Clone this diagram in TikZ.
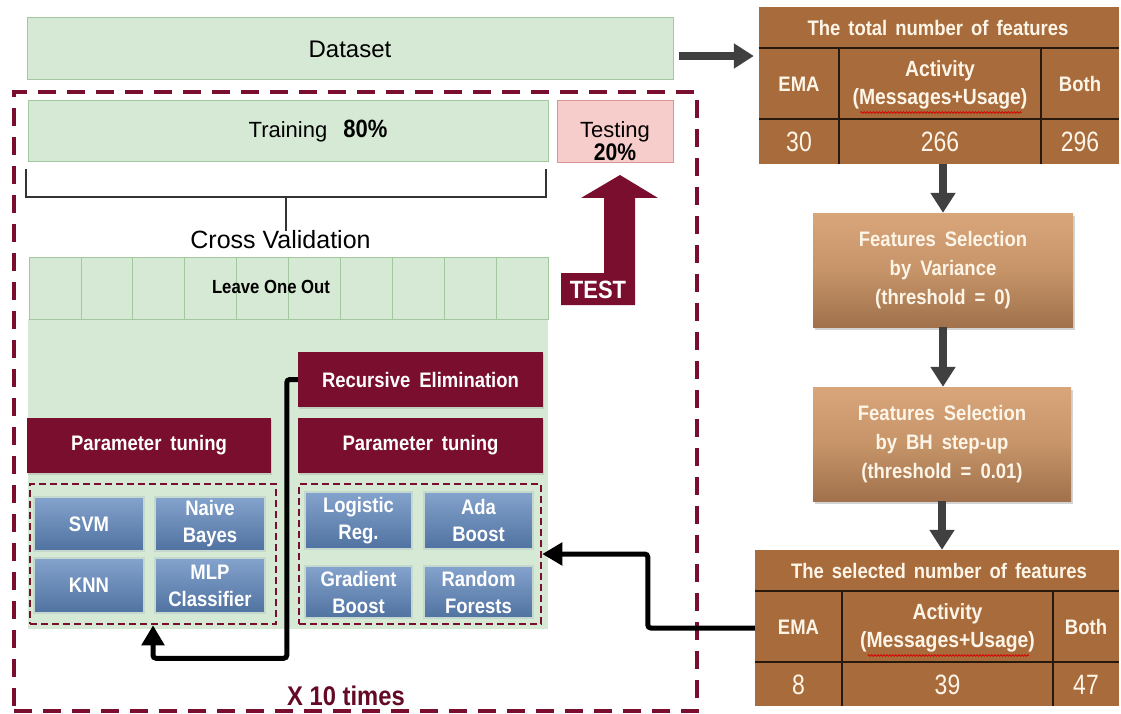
\documentclass[tikz,border=0pt]{standalone}
\usepackage{fontspec}
\setmainfont{Liberation Sans}
\newfontfamily\nb{Liberation Sans}[FakeStretch=0.88]
\newfontfamily\nr{Liberation Sans}[FakeStretch=0.82]
\usetikzlibrary{arrows.meta,shadows,calc,decorations.pathmorphing}
\newcommand\setfs[2]{\fontsize{#1}{#2}\selectfont}
\newcommand\widesp[1]{\spaceskip=#1\relax}

\definecolor{mar}{RGB}{122,14,46}
\definecolor{mardark}{RGB}{100,10,38}
\definecolor{grn}{RGB}{214,233,212}
\definecolor{grnline}{RGB}{163,199,158}
\definecolor{pnk}{RGB}{246,205,203}
\definecolor{pnkline}{RGB}{214,150,148}
\definecolor{brn}{RGB}{168,107,60}
\definecolor{tlinec}{RGB}{40,25,15}
\definecolor{ftop}{RGB}{216,166,122}
\definecolor{fmid}{RGB}{198,148,104}
\definecolor{fbot}{RGB}{160,113,76}
\definecolor{btop}{RGB}{132,163,205}
\definecolor{bbot}{RGB}{80,114,160}
\definecolor{bglow}{RGB}{196,216,206}
\definecolor{dgray}{RGB}{64,64,64}
\definecolor{cream}{RGB}{253,245,232}

\begin{document}
\begin{tikzpicture}[x=1pt,y=-1pt,
  greenbox/.style={draw=grnline, fill=grn, line width=1pt, inner sep=0pt},
  cell/.style={draw=grnline, fill=grn, line width=0.8pt, minimum width=51.9pt, minimum height=62pt, inner sep=0pt},
  maroonbox/.style={fill=mar, text=white, font={\nb\bfseries\setfs{21}{24}\widesp{9pt}}, inner sep=0pt,
    drop shadow={opacity=0.25, shadow xshift=1pt, shadow yshift=-2pt}},
  bluebox/.style={top color=btop, bottom color=bbot, draw=bglow, line width=1.5pt, text=white,
    font={\nb\bfseries\setfs{21}{27}}, align=center, inner sep=0pt},
  featbox/.style={top color=ftop, bottom color=fbot, middle color=fmid, text=cream,
    font={\nb\bfseries\setfs{21}{29}\widesp{9pt}}, align=center, inner sep=0pt,
    drop shadow={opacity=0.35, shadow xshift=2pt, shadow yshift=-3pt}},
  innerdash/.style={draw=mar, line width=2.5pt, dash pattern=on 7pt off 4pt},
  outerdash/.style={draw=mar, line width=4pt, dash pattern=on 18pt off 11pt},
  tabletext/.style={text=cream, font={\nb\bfseries\setfs{21}{28}\widesp{8pt}}, align=center, inner sep=0pt},
  tablenum/.style={text=cream, font={\nr\setfs{28}{30}}, inner sep=0pt},
  tablebg/.style={fill=brn, inner sep=0pt},
  tline/.style={draw=tlinec, line width=2.5pt},
  darrow/.style={draw=dgray, line width=8pt, -{Triangle[width=24pt,length=20pt]}},
  barrow/.style={draw=black, line width=5pt, rounded corners=3pt, -{Triangle[width=22pt,length=20pt]}},
  wavy/.style={draw=red!85!black, line width=0.8pt, decorate, decoration={snake, amplitude=0.8pt, segment length=3pt}},
  plain/.style={inner sep=0pt},
]
\useasboundingbox (0,0) rectangle (1121,714);

% ---------- data split ----------
\node[greenbox, minimum width=646pt, minimum height=62pt, font={\setfs{24}{28}}] (dataset) at (350,49) {Dataset};

\node[outerdash, minimum width=683pt, minimum height=619pt, inner sep=0pt] (loop) at (355.5,401.5) {};
\node[plain, text=mardark, font={\nb\bfseries\setfs{27}{30}}] (times) at (346,696) {X 10 times};

\node[greenbox, minimum width=520pt, minimum height=61pt] (training) at (288,131.5) {};
\node[plain, font={\setfs{22}{26}}] (traintxt) at (318,131) {Training\hspace{16pt}{\nb\bfseries\setfs{25}{26}80\%}};

\node[draw=pnkline, fill=pnk, line width=1pt, minimum width=116pt, minimum height=62pt, inner sep=0pt] (testing) at (615,132) {};
\node[plain, align=center, font={\setfs{22}{19}}] (testtxt) at ([yshift=-9pt]testing.center) {Testing\\{\nb\bfseries\setfs{24}{19}20\%}};

% bracket under the training set
\coordinate (brl) at (26,169);
\coordinate (brr) at (546,169);
\coordinate (brm) at (286,197);
\node[plain, font={\setfs{25}{28}}] (cv) at (280.5,240) {Cross Validation};
\draw[draw=black!80, line width=2pt] (brl) |- (brr |- brm) -- (brr);
\draw[draw=black!80, line width=2pt] (brm) -- (brm |- cv.north);

% ---------- cross validation area ----------
\fill[grn] (28,319) rectangle (548,629);
\foreach \i in {0,...,9}
  \node[cell] (c\i) at ({54.95+51.9*\i},288) {};
\node[plain, font={\nb\bfseries\setfs{19}{22}}] (loo) at (271,287) {Leave One Out};

% test arrow
\fill[mar] (561,305) -- (561,273) -- (604,273) -- (604,198) -- (581,198) -- (620,175)
  -- (658,198) -- (635,198) -- (635,305) -- cycle;
\node[plain, text=white, font={\nb\bfseries\setfs{25}{28}}] (testlbl) at (598,290) {TEST};

% ---------- model groups ----------
\node[maroonbox, minimum width=244pt, minimum height=55pt] (ptl) at (149,445.5) {Parameter tuning};
\node[maroonbox, minimum width=245pt, minimum height=55pt] (re) at (420.5,379.5) {Recursive Elimination};
\node[maroonbox, minimum width=245pt, minimum height=55pt] (ptr) at (420.5,445.5) {Parameter tuning};

\node[innerdash, minimum width=246pt, minimum height=140pt, inner sep=0pt] (ldash) at (153,554) {};
\node[innerdash, minimum width=242pt, minimum height=140pt, inner sep=0pt] (rdash) at (420,554) {};

\node[bluebox, minimum width=110pt, minimum height=54pt] (svm) at (89,524) {SVM};
\node[bluebox, minimum width=110pt, minimum height=54pt] (nb) at (210,524) {Naive\\Bayes};
\node[bluebox, minimum width=110pt, minimum height=55pt] (knn) at (89,585.5) {KNN};
\node[bluebox, minimum width=110pt, minimum height=55pt] (mlp) at (210,585.5) {MLP\\Classifier};

\node[bluebox, minimum width=107pt, minimum height=57pt] (lr) at (358.5,520.5) {Logistic\\Reg.};
\node[bluebox, minimum width=109pt, minimum height=57pt] (ada) at (478.5,520.5) {Ada\\Boost};
\node[bluebox, minimum width=107pt, minimum height=52pt] (gb) at (358.5,592) {Gradient\\Boost};
\node[bluebox, minimum width=109pt, minimum height=52pt] (rf) at (478.5,592) {Random\\Forests};

\draw[barrow] (re.west) -- ++(-11,0) |- ([yshift=-33pt]ldash.south) -- (ldash.south);

% ---------- feature tables ----------
\node[tablebg, minimum width=360pt, minimum height=157pt] (t1) at (939,85.5) {};
\draw[tline] ($(t1.north west)+(0,41)$) -- ($(t1.north east)+(0,41)$);
\draw[tline] ($(t1.north west)+(0,112)$) -- ($(t1.north east)+(0,112)$);
\draw[tline] ($(t1.north west)+(80,41)$) -- ($(t1.south west)+(80,0)$);
\draw[tline] ($(t1.north west)+(282,41)$) -- ($(t1.south west)+(282,0)$);
\node[tabletext] (t1title) at (938,28) {The total number of features};
\node[tabletext] (t1ema) at (799,84) {EMA};
\node[tabletext, font={\nb\bfseries\setfs{22}{28}}] (t1act) at (940,85) {Activity\\(Messages+Usage)};
\node[tabletext] (t1both) at (1080,84) {Both};
\node[tablenum] (t1n1) at (799,142) {30};
\node[tablenum] (t1n2) at (940,142) {266};
\node[tablenum] (t1n3) at (1080,142) {296};
\draw[wavy] ($(t1act.south west)+(8,3)$) -- ($(t1act.south east)+(-6,3)$);

\node[featbox, minimum width=260pt, minimum height=114pt] (f1) at (943,270) {Features Selection\\by Variance\\(threshold = 0)};
\node[featbox, minimum width=258pt, minimum height=114pt] (f2) at (942,444) {Features Selection\\by BH step-up\\(threshold = 0.01)};

\node[tablebg, minimum width=364pt, minimum height=156pt] (t2) at (937,628) {};
\draw[tline] ($(t2.north west)+(0,41)$) -- ($(t2.north east)+(0,41)$);
\draw[tline] ($(t2.north west)+(0,112)$) -- ($(t2.north east)+(0,112)$);
\draw[tline] ($(t2.north west)+(87,41)$) -- ($(t2.south west)+(87,0)$);
\draw[tline] ($(t2.north west)+(298,41)$) -- ($(t2.south west)+(298,0)$);
\node[tabletext] (t2title) at (939,571) {The selected number of features};
\node[tabletext] (t2ema) at (798.5,627) {EMA};
\node[tabletext, font={\nb\bfseries\setfs{22}{28}}] (t2act) at (947.5,628) {Activity\\(Messages+Usage)};
\node[tabletext] (t2both) at (1086,627) {Both};
\node[tablenum] (t2n1) at (798.5,685) {8};
\node[tablenum] (t2n2) at (947.5,685) {39};
\node[tablenum] (t2n3) at (1086,685) {47};
\draw[wavy] ($(t2act.south west)+(8,3)$) -- ($(t2act.south east)+(-6,3)$);

% ---------- connectors ----------
\draw[darrow, shorten >=10pt] ([xshift=5pt,yshift=-7pt]dataset.east) -- ([xshift=5pt,yshift=-7pt]dataset.east -| t1.west);
\draw[darrow] (f1.north |- t1.south) -- (f1.north);
\draw[darrow] (f1.south) -- (f1.south |- f2.north);
\draw[darrow] (f2.south) -- (f2.south |- t2.north);
\draw[barrow] (t2.west) -- ++(-107,0) |- (rdash.east);
\end{tikzpicture}
\end{document}
